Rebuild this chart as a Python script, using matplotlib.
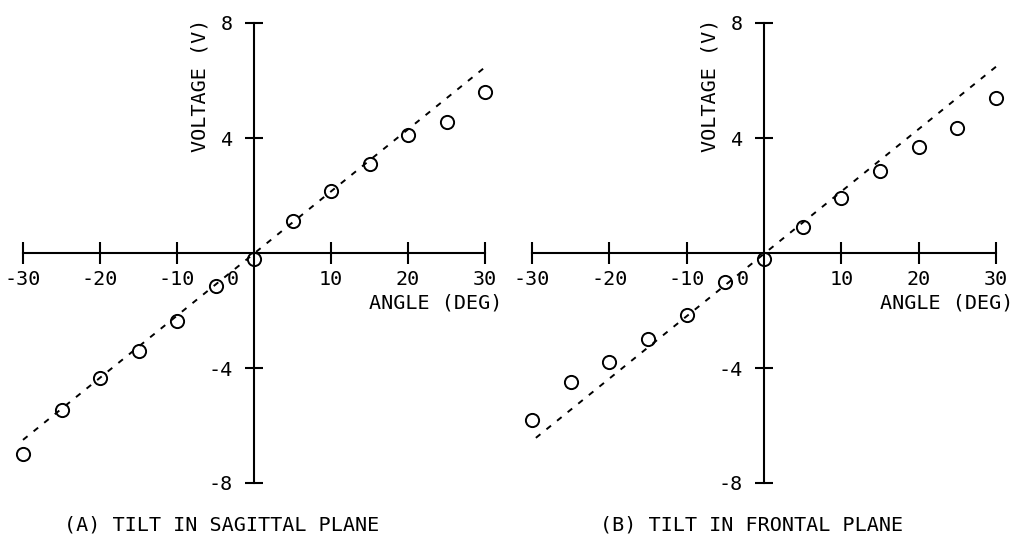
import matplotlib
matplotlib.use("Agg")
import matplotlib.pyplot as plt

plt.rcParams["font.family"] = ["DejaVu Sans Mono", "DejaVu Sans"]
plt.rcParams["axes.unicode_minus"] = False

# measured points (angle in deg, voltage in V)
angles = [-30, -25, -20, -15, -10, -5, 0, 5, 10, 15, 20, 25, 30]
volts_sagittal = [-7.0, -5.45, -4.35, -3.4, -2.35, -1.15, -0.2, 1.1, 2.15, 3.1, 4.1, 4.55, 5.6]
volts_frontal = [-5.8, -4.5, -3.8, -3.0, -2.15, -1.0, -0.2, 0.9, 1.9, 2.85, 3.7, 4.35, 5.4]

# dashed reference lines (end points)
fit_sagittal_x = [-30, 30.5]
fit_sagittal_y = [-6.5, 6.57]
fit_frontal_x = [-29.5, 30]
fit_frontal_y = [-6.43, 6.48]

xticks = [-30, -20, -10, 10, 20, 30]
yticks = [-8, -4, 4, 8]
captions = ["(A) TILT IN SAGITTAL PLANE", "(B) TILT IN FRONTAL PLANE"]

W, H = 1021, 538
FS = 14.5
fig = plt.figure(figsize=(W / 100, H / 100), dpi=100)

def panel(left_px, right_px, fx, fy, vals, caption, cap_x):
    ax = fig.add_axes([left_px / W, 1 - 483 / H, (right_px - left_px) / W, 460 / H])
    ax.set_xlim(-30, 30)
    ax.set_ylim(-8, 8)
    for s in ["top", "right"]:
        ax.spines[s].set_visible(False)
    ax.spines["left"].set_position("zero")
    ax.spines["bottom"].set_position("zero")
    for s in ["left", "bottom"]:
        ax.spines[s].set_linewidth(1.5)
    ax.set_xticks(xticks)
    ax.set_xticklabels([str(t) for t in xticks])
    ax.set_yticks(yticks)
    ax.set_yticklabels([str(t) for t in yticks])
    ax.tick_params(axis="x", direction="inout", length=16, width=1.5, pad=4, labelsize=FS)
    ax.tick_params(axis="y", direction="inout", length=12.5, width=1.5, pad=9, labelsize=FS)
    ax.annotate("0", xy=(0, 0), xytext=(-15, -12), textcoords="offset points",
                ha="center", va="top", fontsize=FS)

    ax.plot(fx, fy, color="black", lw=1.4, linestyle=(0, (3, 4)), clip_on=False)
    ax.plot(angles, vals, linestyle="none", marker="o", markersize=9.5,
            markerfacecolor="none", markeredgecolor="black", markeredgewidth=1.4,
            clip_on=False)

    ax.text(32.2, -1.75, "ANGLE (DEG)", ha="right", va="center", fontsize=FS)
    ax.text(-7.0, 5.85, "VOLTAGE (V)", rotation=90, ha="center", va="center", fontsize=FS)
    fig.text(cap_x / W, 1 - 525 / H, caption, ha="center", va="center", fontsize=FS)
    return ax

panel(23, 485, fit_sagittal_x, fit_sagittal_y, volts_sagittal, captions[0], 222)
panel(532, 996, fit_frontal_x, fit_frontal_y, volts_frontal, captions[1], 752)

fig.savefig("out.png", dpi=100)
